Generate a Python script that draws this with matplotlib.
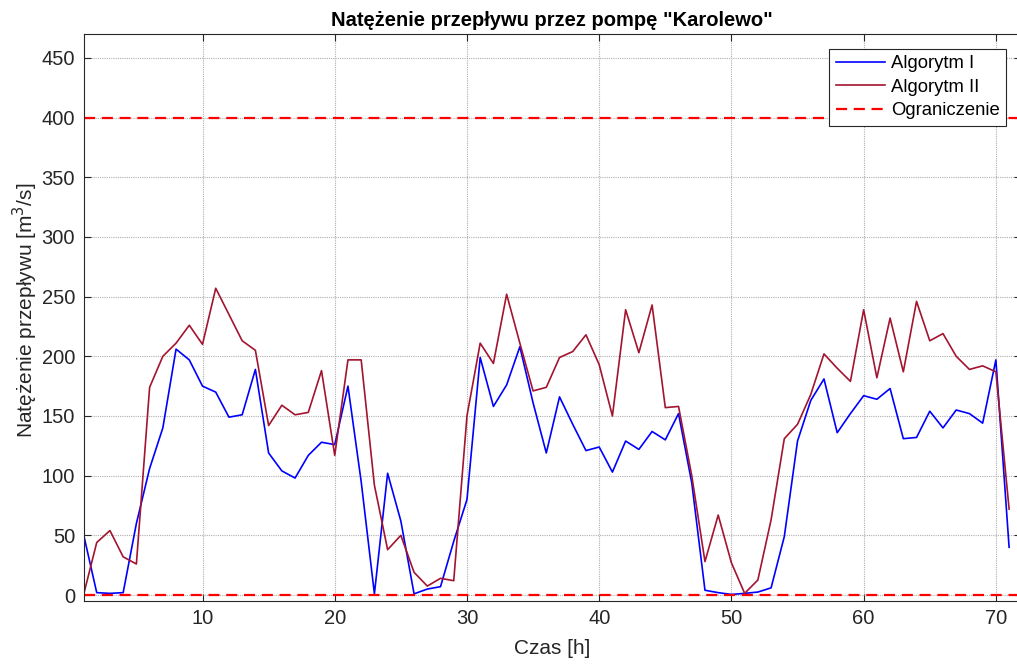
import matplotlib
matplotlib.use("Agg")
import matplotlib.pyplot as plt
import numpy as np

plt.rcParams['font.family'] = ['Liberation Sans', 'DejaVu Sans']

hours = list(range(1, 72))
algorytm_1 = [51, 2, 1.4, 2, 60, 106, 140, 206, 197, 175,
              170, 149, 151, 189, 119, 104, 98, 117, 128, 126,
              175, 95, 1, 102, 62, 1, 5, 7, 45, 80,
              199, 158, 176, 208, 161, 119, 166, 143, 121, 124,
              103, 129, 122, 137, 130, 152, 94, 4, 2, 0.5,
              1.4, 2.5, 6, 49, 129, 163, 181, 136, 152, 167,
              164, 173, 131, 132, 154, 140, 155, 152, 144, 197,
              40]
algorytm_2 = [0, 44, 54, 32, 26, 174, 200, 211, 226, 210,
              257, 235, 213, 205, 142, 159, 151, 153, 188, 117,
              197, 197, 92, 38, 50, 19, 7.5, 14, 12, 150,
              211, 194, 252, 211, 171, 174, 199, 204, 218, 193,
              150, 239, 203, 243, 157, 158, 100, 28, 67, 27,
              1.4, 12.6, 63, 131, 143, 168, 202, 190, 179, 239,
              182, 232, 187, 246, 213, 219, 200, 189, 192, 187,
              72]
limit_upper = 400
limit_lower = 0

fig = plt.figure(figsize=(10.17, 6.66), dpi=100)
ax = fig.add_axes([83.5/1017, 1-601/666, (1021-83.5)/1017, (601-34)/666])

ax.plot(hours, algorytm_1, color='#0000FF', lw=1.2, label='Algorytm I')
ax.plot(hours, algorytm_2, color='#A2142F', lw=1.2, label='Algorytm II')
ax.axhline(limit_upper, color='#FF0000', ls=(0, (5, 3)), lw=1.6, label='Ograniczenie')
ax.axhline(limit_lower, color='#FF0000', ls=(0, (5, 3)), lw=1.6)

ax.set_xlim(1, 71.9)
ax.set_ylim(-5, 470)
ax.set_xticks([10, 20, 30, 40, 50, 60, 70])
ax.set_yticks(np.arange(0, 451, 50))
ax.grid(True, color='#b0b0b0', ls=(0, (1, 1)), lw=0.8)
ax.set_axisbelow(True)
ax.tick_params(direction='in', top=True, right=True, length=5, width=0.8,
               labelsize=14.5, colors='#262626', labelcolor='#262626', pad=6)
for s in ax.spines.values():
    s.set_color('#262626')
    s.set_linewidth(0.8)

ax.set_title('Natężenie przepływu przez pompę "Karolewo"', fontsize=14.5,
             fontweight='bold', pad=6)
ax.set_xlabel('Czas [h]', fontsize=15, color='#262626', labelpad=8)
ax.set_ylabel('Natężenie przepływu [m$^3$/s]', fontsize=15, color='#262626', labelpad=1)
ax.yaxis.label.set_y(0.512)

leg = ax.legend(loc='upper right', fontsize=13.3, fancybox=False, framealpha=1,
                edgecolor='#262626', borderaxespad=0.8, handlelength=2.65,
                labelspacing=0.35, borderpad=0.35, handletextpad=0.35)
leg.get_frame().set_linewidth(0.8)

fig.savefig('out.png', dpi=100)
